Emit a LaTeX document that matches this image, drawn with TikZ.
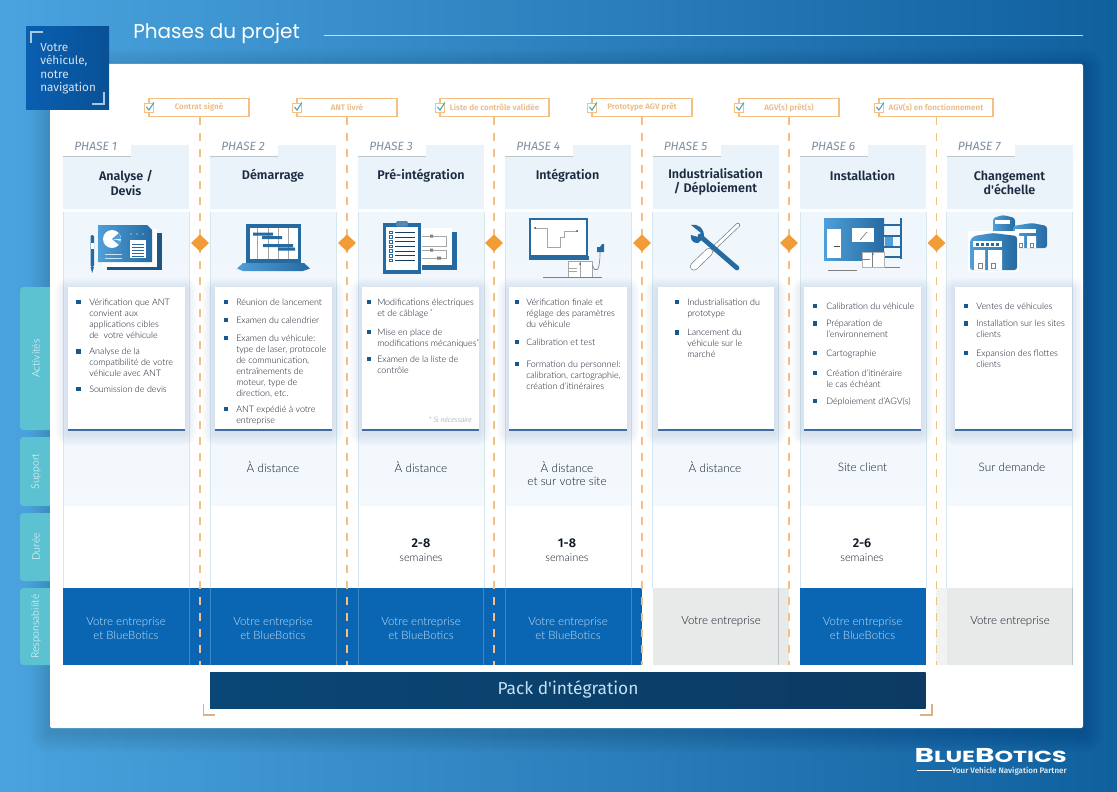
\documentclass[tikz,border=0pt]{standalone}
\usepackage{fontspec}
\usepackage{graphicx}
\setmainfont{Lato}[UprightFont=* Light,ItalicFont=* Light Italic]
\newfontfamily\headf{Fira Sans}[UprightFont=* Medium,BoldFont=* SemiBold]
\newfontfamily\headr{Fira Sans}
\newfontfamily\titf{Poppins}
\usetikzlibrary{calc}
\definecolor{bgL}{HTML}{4AA3DE}
\definecolor{bgR}{HTML}{10609E}
\definecolor{tabc}{HTML}{5CC2D2}
\definecolor{colhead}{HTML}{EAF3F9}
\definecolor{colbody}{HTML}{F0F7FC}
\definecolor{colline}{HTML}{D6E6EE}
\definecolor{ms}{HTML}{F3BF82}
\definecolor{mstext}{HTML}{E9BC85}
\definecolor{dia}{HTML}{F29C38}
\definecolor{ink}{HTML}{101826}
\definecolor{head}{HTML}{1C2B42}
\definecolor{phasec}{HTML}{7E8EA0}
\definecolor{resp}{HTML}{0A66B2}
\definecolor{resptext}{HTML}{C4E0F6}
\definecolor{navy}{HTML}{0A4776}
\definecolor{navyb}{HTML}{0C3A62}
\definecolor{grayb}{HTML}{E8E9E9}
\definecolor{cardline}{HTML}{3F6BA6}
\definecolor{bul}{HTML}{14588F}
\definecolor{iconL}{HTML}{4F9FD8}
\definecolor{iconD}{HTML}{266AA2}
\definecolor{logoc}{HTML}{0A5FB0}
\tikzset{
 px/.style={x=0.75pt,y=-0.75pt},
 bodytxt/.style={anchor=north west,inner sep=0pt,align=left,text=ink,font={\fontsize{6.7}{8.3}\selectfont}},
 bulmark/.style={fill=bul,inner sep=0pt,minimum size=3.6pt,draw=none},
 msbox/.style={draw=ms,line width=0.8pt,fill=white,minimum height=14pt,inner sep=0pt,text=mstext,font={\headf\bfseries\fontsize{6}{7}\selectfont}},
 msline/.style={draw=ms,line width=1pt,dash pattern=on 5.4pt off 6.6pt},
 diamondmk/.style={fill=dia,draw=none},
 phasetxt/.style={inner sep=0pt,text=phasec,font={\headr\itshape\fontsize{9}{10}\selectfont}},
 headtxt/.style={inner sep=0pt,align=center,text=head,font={\headf\bfseries\fontsize{9.4}{10.6}\selectfont}},
 suptxt/.style={inner sep=0pt,align=center,text=ink,font={\fontsize{8.8}{9.9}\selectfont}},
 dureetxt/.style={inner sep=0pt,align=center,text=ink,font={\fontsize{8.2}{10.5}\selectfont}},
 resptxt/.style={inner sep=0pt,align=center,text=resptext,font={\fontsize{8.6}{10.9}\selectfont}},
 respgr/.style={inner sep=0pt,align=center,text=ink,font={\fontsize{8.6}{10.9}\selectfont}},
 tabtxt/.style={inner sep=0pt,rotate=90,text=white,font={\fontsize{7.8}{9}\selectfont}},
 bracket/.style={draw=#1,line width=0.8pt},
 iconw/.style={fill=white,draw=none},
 gline/.style={draw=gray!70,line width=0.4pt},
}
% bullet item: name, bullet x, text x, y of first line centre, lines
\newcommand{\bit}[5]{%
 \node[bulmark] (b#1) at (#2,#4) {};
 \node[bodytxt] (i#1) at (#3,#4-5) {\rule{0pt}{6pt}#5};
}
% soft shadow
\newcommand{\softsh}[8]{% x1 y1 x2 y2 maxd yoff colour opacity
 \foreach \d in {2,4,...,#5} {\fill[#7,opacity=#8,rounded corners=\d*0.75pt] (#1-\d,#2-\d+#6) rectangle (#3+\d,#4+\d+#6);}
}
\begin{document}
\begin{tikzpicture}[px]
\useasboundingbox (0,0) rectangle (1117,792);
\shade[left color=bgL,right color=bgR] (0,0) rectangle (1117,792);

% white sheet shadow
\softsh{50}{64}{1083}{728}{20}{5}{black}{.012}

% side tabs
\foreach \nm/\a/\b/\t in {tA/287/430/Activités,tS/437/506/Support,tD/513/581/Durée,tR/588/665/Responsabilité}{
 \fill[tabc,rounded corners=2.5pt] (20,\a) rectangle (60,\b);
 \node[tabtxt] (\nm) at (36,{(\a+\b)/2}) {\t};
}

% white sheet
\fill[white,rounded corners=1.5pt] (50,64) rectangle (1083,728);

% columns
\foreach \i/\x in {1/63,2/210,3/358,4/505,5/652.5,6/800,7/946.5}{
 \fill[colhead] (\x,145) rectangle (\x+126,209);
 \fill[white] (\x,145) rectangle (\x+68,156);
 \draw[colline!70!gray,line width=0.6pt] (\x,156) -- (\x+68,156);
 \shade[top color=colbody,bottom color=colbody!80!white] (\x,212) rectangle (\x+126,505);
 \draw[colline,line width=0.6pt] (\x,212) -- (\x,588) (\x+126,212) -- (\x+126,588);
 \node[phasetxt,anchor=base west] (ph\i) at (\x+11,150.5) {PHASE \i};
}

% responsibility band
\fill[resp] (63,588) rectangle (642,665);
\fill[grayb] (652.5,588) rectangle (788.5,665);
\fill[resp] (799.5,588) rectangle (925.5,665);
\fill[grayb!60!white] (936,588) rectangle (946.5,665);
\fill[grayb] (946.5,588) rectangle (1072.5,665);
\foreach \x in {189,210,336,358,483,505,631}{\draw[white,opacity=.22,line width=0.5pt] (\x,588) -- (\x,665);}
\draw[colline!70!gray,line width=0.5pt] (778.5,588) -- (778.5,665) (1072.5,588) -- (1072.5,665);

% milestones positions
\coordinate (e1) at (200,665);\coordinate (e2) at (347,665);\coordinate (e3) at (494,665);
\coordinate (e4) at (642,665);\coordinate (e5) at (789,665);\coordinate (e6) at (936.5,665);

% logo block
\shade[left color=logoc,right color=logoc!85!black] (26,27) rectangle (109,109);
\draw[bracket=white!65!logoc] (43,32) -- (31,32) -- (31,43);
\draw[bracket=white!65!logoc] (104,92) -- (104,104) -- (92,104);
\node[inner sep=0pt,anchor=north west,align=left,text=white!82!logoc,font={\headr\fontsize{8.8}{10}\selectfont}] (slogan) at (40,43) {Votre\\véhicule,\\notre\\navigation};

% title
\node[anchor=west,inner sep=0pt,text=white,font={\titf\fontsize{15}{20}\selectfont}] (title) at (133,33) {Phases du projet};
\coordinate (ruleR) at (1083,35);
\draw[cyan!30!white,line width=0.7pt] (324,35) -- (ruleR);

% white activity cards
\foreach \i/\a/\b in {1/67.5/184.5,2/214.5/331.5,3/362/479,4/509/627,5/657.5/774,6/804/921,7/955/1072}{
 \softsh{\a}{287}{\b}{430}{12}{3}{cardline}{.022}
 \fill[white] (\a,287) rectangle (\b,430);
 \draw[cardline,line width=1pt] (\a,430) -- (\b,430);
}

% milestones, dashes, diamonds
\foreach \nm/\x/\w/\t in {1/199/100/Contrat signé,2/347/100/ANT livré,3/494.5/109/Liste de contrôle validée,4/642/100/Prototype AGV prêt,5/789/100/AGV(s) prêt(s),6/936/114/AGV(s) en fonctionnement}{
 \node[msbox,minimum width=\w*0.75pt] (m\nm) at (\x,107.5) {\t};
 \draw[msline] (m\nm.south -| e\nm) -- (e\nm);
 \node[diamondmk,minimum size=0pt,inner sep=0pt] (dk\nm) at (e\nm |- 0,243) {};
 \fill[dia] ($(dk\nm)+(-9,0)$) -- ($(dk\nm)+(0,-8.5)$) -- ($(dk\nm)+(9,0)$) -- ($(dk\nm)+(0,8.5)$) -- cycle;
 % check box
 \draw[ms,line width=0.6pt,fill=white] ($(m\nm.west)+(-4,-4.5)$) rectangle ($(m\nm.west)+(5,4.5)$);
 \draw[tabc!85!black,line width=0.8pt] ($(m\nm.west)+(-2,-0.5)$) -- ($(m\nm.west)+(0.5,2.5)$) -- ($(m\nm.west)+(5.5,-5)$);
}

% headings
\node[headtxt] (h1) at (126,183) {Analyse /\\Devis};
\node[headtxt] (h2) at (273,176) {Démarrage};
\node[headtxt] (h3) at (421,176) {Pré-intégration};
\node[headtxt] (h4) at (567.5,176) {Intégration};
\node[headtxt] (h5) at (715.5,181.5) {Industrialisation\\/ Déploiement};
\node[headtxt] (h6) at (862.5,176) {Installation};
\node[headtxt] (h7) at (1009.5,183) {Changement\\d'échelle};

% bullet lists
\bit{11}{78.5}{89}{302}{Vérification que ANT\\convient aux\\applications cibles\\de\ \ votre véhicule}
\bit{12}{78.5}{89}{351.5}{Analyse de la\\compatibilité de votre\\véhicule avec ANT}
\bit{13}{78.5}{89}{389}{Soumission de devis}
\bit{21}{226}{236}{302}{Réunion de lancement}
\bit{22}{226}{236}{320}{Examen du calendrier}
\bit{23}{226}{236}{338}{Examen du véhicule:\\type de laser, protocole\\de communication,\\entraînements de\\moteur, type de\\direction, etc.}
\bit{24}{226}{236}{409}{ANT expédié à votre\\entreprise}
\bit{31}{369}{377}{302}{Modifications électriques\\et de câblage\,\raisebox{1.5pt}{\fontsize{5}{5}\selectfont *}}
\bit{32}{369}{377}{332}{Mise en place de\\modifications mécaniques\raisebox{1.5pt}{\fontsize{5}{5}\selectfont *}}
\bit{33}{369}{377}{359}{Examen de la liste de\\contrôle}
\node[anchor=east,inner sep=0pt,text=phasec,font={\itshape\fontsize{5.6}{7}\selectfont}] (fn) at (472,420) {* Si nécessaire};
\bit{41}{517}{526}{302}{Vérification finale et\\réglage des paramètres\\du véhicule}
\bit{42}{517}{526}{342}{Calibration et test}
\bit{43}{517}{526}{364}{Formation du personnel:\\calibration, cartographie,\\création d'itinéraires}
\bit{51}{677}{687}{302}{Industrialisation du\\prototype}
\bit{52}{677}{687}{332.5}{Lancement du\\véhicule sur le\\marché}
\bit{61}{815}{826}{306}{Calibration du véhicule}
\bit{62}{815}{826}{323.5}{Préparation de\\l'environnement}
\bit{63}{815}{826}{353}{Cartographie}
\bit{64}{815}{826}{373}{Création d'itinéraire\\le cas échéant}
\bit{65}{815}{826}{401}{Déploiement d'AGV(s)}
\bit{71}{966}{976}{306}{Ventes de véhicules}
\bit{72}{966}{976}{323.5}{Installation sur les sites\\clients}
\bit{73}{966}{976}{353}{Expansion des flottes\\clients}

% support
\node[suptxt] (s2) at (273,467) {À distance};
\node[suptxt] (s3) at (421,467) {À distance};
\node[suptxt] (s4) at (567,473.5) {À distance\\et sur votre site};
\node[suptxt] (s5) at (715,467) {À distance};
\node[suptxt] (s6) at (862.5,467) {Site client};
\node[suptxt] (s7) at (1012,467) {Sur demande};

% duree
\node[dureetxt] (d3) at (421,550) {{\headf\bfseries\fontsize{9.5}{10}\selectfont 2-8}\\semaines};
\node[dureetxt] (d4) at (567,550) {{\headf\bfseries\fontsize{9.5}{10}\selectfont 1-8}\\semaines};
\node[dureetxt] (d6) at (862,550) {{\headf\bfseries\fontsize{9.5}{10}\selectfont 2-6}\\semaines};

% responsibility
\node[resptxt] (r1) at (126,628.5) {Votre entreprise\\et BlueBotics};
\node[resptxt] (r2) at (273,628.5) {Votre entreprise\\et BlueBotics};
\node[resptxt] (r3) at (421,628.5) {Votre entreprise\\et BlueBotics};
\node[resptxt] (r4) at (568,628.5) {Votre entreprise\\et BlueBotics};
\node[respgr] (r5) at (721,621) {Votre entreprise};
\node[resptxt] (r6) at (862.5,628.5) {Votre entreprise\\et BlueBotics};
\node[respgr] (r7) at (1010,621) {Votre entreprise};

% pack
\shade[left color=navy,right color=navyb] (210,672) rectangle (925.5,708);
\node[inner sep=0pt,text=resptext,font={\headr\fontsize{13}{14}\selectfont}] (pack) at (568,689.5) {Pack d'intégration};
\draw[bracket=ms!80!gray] (203.5,704) -- (203.5,715) -- (215,715);
\draw[bracket=ms!80!gray] (920,715) -- (932,715) -- (932,704);

% icon 1 : slides
\fill[iconD,rounded corners=1pt] (90.5,235) rectangle (94,267);
\fill[iconD] (90.5,267) -- (94,267) -- (92.2,273) -- cycle;
\fill[white] (90.5,243) rectangle (94,249);
\fill[iconD!80!black] (107,233) rectangle (162,270);
\fill[white] (102,229) rectangle (157,267);
\shade[left color=iconL,right color=iconD] (98,225) -- (147,225) -- (152,230) -- (152,262) -- (98,262) -- cycle;
\fill[white] (112,239) circle[radius=9];
\fill[iconL] (112,239) -- (121,239) -- (119,233) -- cycle;
\fill[iconL] (112,239) -- (119,245) -- (121,241) -- cycle;
\fill[white] (130,240) rectangle (146,258);
\foreach \y in {244,247,250,253,256}{\draw[iconD,line width=0.4pt] (132,\y) -- (144,\y);}
\draw[white!70!iconL,line width=0.6pt] (105,254) -- (122,254) (105,258) -- (122,258);
\foreach \x in {131,137,143}{\fill[white] (\x,234) circle[radius=0.7];}

% icon 2 : laptop gantt
\fill[iconD] (246,224) rectangle (301,263);
\fill[white] (250,228) rectangle (298,259);
\foreach \x in {257,268,278,288}{\draw[gline] (\x,228) -- (\x,259);}
\fill[iconD] (253,232.5) rectangle (273,235.5) (262,236) rectangle (282,239) (263,244) rectangle (293,247) (278,247.5) rectangle (295,250.5);
\shade[left color=iconL,right color=iconD] (243,263) -- (304,263) -- (310,268.5) -- (303,271) -- (243,271) -- (237,268.5) -- cycle;

% icon 3 : clipboard
\fill[iconD] (422,232) rectangle (457,270);
\fill[white] (421,228) rectangle (452,265);
\draw[gline] (422,236) -- (446,236) -- (446,246) -- (422,246) (422,250) -- (446,250) -- (446,258) -- (422,258);
\fill[gray] (430,234.5) rectangle (433,237.5) (430,248.5) rectangle (433,251.5) (437,256.5) rectangle (441,259.5);
\fill[iconD] (383,223) rectangle (421,274);
\fill[white] (386,227) rectangle (418,270);
\fill[iconD!80!white,rounded corners=1pt] (396,221) rectangle (408,226.5);
\foreach \y in {232.3,237,241.7,246.3,251,255.7,260.3}{
 \draw[iconD,line width=0.5pt] (389.5,\y-1.3) rectangle (392,\y+1.3);
 \draw[iconD!60!black,line width=0.6pt] (395,\y) -- (415,\y);
}

% icon 4 : programming screen
\fill[white,draw=iconD,line width=1.6pt] (530,219) rectangle (587,256);
\fill[iconD] (528.5,256) rectangle (589,260);
\draw[gray!70,line width=0.5pt] (535,228) -- (547,228) -- (547,247) -- (560,247) -- (560,237) -- (564,237) -- (564,231) -- (577,231);
\fill[iconD!70!black] (535,228) circle[radius=1] (577,231) circle[radius=1];
\fill[iconD] (597,247) -- (600,247) -- (602,244) -- (604,244) -- (604,252) -- (597,252) -- cycle;
\fill[white,draw=gray!70,line width=0.4pt] (568,261) rectangle (592,277);
\draw[gray!70,line width=0.4pt] (580,261) -- (580,277) (568,268) -- (577,268) (568,271) -- (577,271);
\fill[iconD!70!black] (580,264) circle[radius=0.9];
\draw[gray,line width=0.5pt] (592,265) .. controls (596,274) and (600,272) .. (600,252);
\draw[gray,line width=0.6pt] (543,277) -- (602,277);

% icon 5 : tools
\draw[gray!80!iconD,line width=3.2pt,line cap=round] (738,225) -- (695,266);
\draw[white,line width=2.2pt,line cap=round] (738,225) -- (695,266);
\draw[gray!80!iconD,line width=6pt,line cap=round] (709,252) -- (694,266.5);
\draw[white,line width=5pt,line cap=round] (709,252) -- (694,266.5);
\draw[iconD,line width=3.6pt,line cap=round] (700,236) -- (737,268);
\fill[iconD] (691,225) .. controls (697,223) and (705,228) .. (704,238) -- (698,243) .. controls (690,243) and (691,237) .. (691,235) -- (698,237) -- (701,233) -- cycle;

% icon 6 : room
\shade[left color=iconL,right color=iconD] (824,218) rectangle (884,260);
\fill[white] (827,229) rectangle (841,258);
\draw[black!70,line width=0.4pt] (834,246) -- (840,246);
\fill[white] (852,228) rectangle (874,242);
\draw[gray,line width=0.5pt] (860,240) -- (867,232);
\draw[iconD,line width=1.5pt] (900.5,218) -- (900.5,259) (884,225) -- (900,225) (884,236) -- (900,236) (884,247) -- (900,247) (884,257) -- (900,257);
\fill[iconL] (885,237) rectangle (893,246);
\fill[white,draw=gray!60,line width=0.3pt] (862,252) rectangle (884,267);
\draw[gray,line width=0.4pt] (872,252) -- (872,267) (862,259) -- (870,259);
\fill[iconD] (873,254) circle[radius=0.8];
\draw[gray,line width=0.5pt] (828,270) -- (857,270) (885,267) -- (900,267);

% icon 7 : buildings
\shade[left color=iconL,right color=iconD,rounded corners=2pt] (993,218) -- (1003,215) -- (1015,218) -- (1015,240) -- (993,240) -- cycle;
\fill[white] (995,219.5) rectangle (1010,224);
\shade[left color=iconL,right color=iconD,rounded corners=2pt] (1013,226) -- (1032,223) -- (1047,226) -- (1047,248) -- (1013,248) -- cycle;
\fill[white] (1015,228.5) rectangle (1036,233);
\fill[white] (1016,236) rectangle (1024,248) (1027,236) rectangle (1036,248);
\draw[gray,line width=0.3pt] (1019,243) rectangle (1022,247) (1030,243) rectangle (1033,247);
\fill[white,rounded corners=1pt] (968,231) rectangle (1019,272);
\shade[left color=iconL,right color=iconD,rounded corners=2pt] (970,270) -- (970,240) -- (974,236) -- (993,233) -- (1017,236) -- (1017,270) -- cycle;
\fill[white] (973,241) rectangle (1002,247);
\foreach \x in {976,981,986,991,996}{\fill[iconD] (\x,242.5) rectangle (\x+2.5,245.5);}
\fill[white] (974,250) rectangle (985,270) (988,250) rectangle (1002,270);
\draw[gray,line width=0.3pt] (978,263) rectangle (982,268) (991,263) rectangle (995,268);

% bluebotics logo
\node[anchor=base east,inner sep=0pt,text=white,font={\titf\bfseries}] (logo) at (1067,762) {\scalebox{1.48}[1]{{\fontsize{15}{15}\selectfont B}{\fontsize{12}{12}\selectfont LUE}{\fontsize{15}{15}\selectfont B}{\fontsize{12}{12}\selectfont OTICS}}};
\node[anchor=base east,inner sep=0pt,text=white!85!bgR,font={\headf\bfseries\fontsize{6}{7}\selectfont}] (tag) at (1067,773) {Your Vehicle Navigation Partner};
\coordinate (tagL) at (917,770);
\draw[white,line width=0.6pt] (tagL) -- (tagL -| tag.west);
\end{tikzpicture}
\end{document}
